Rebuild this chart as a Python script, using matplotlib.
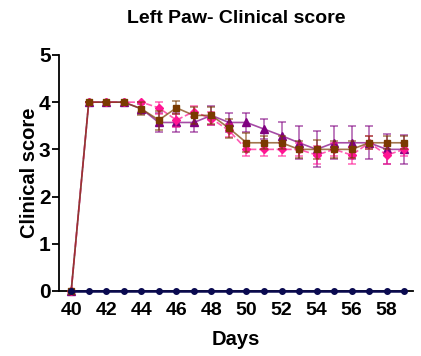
import matplotlib
matplotlib.use("Agg")
import matplotlib.pyplot as plt
from matplotlib.ticker import MultipleLocator

plt.rcParams['font.family'] = ['Liberation Sans', 'DejaVu Sans']
plt.rcParams['font.weight'] = 'bold'

days = list(range(40, 60))

# Group means
control = [0] * 20
group_sq = [0, 4, 4, 4, 3.86, 3.62, 3.88, 3.72, 3.72, 3.45, 3.14, 3.14, 3.14, 3.0, 3.0, 3.0, 3.0, 3.14, 3.14, 3.14]
group_di = [0, 4, 4, 4, 4.0, 3.88, 3.62, 3.8, 3.65, 3.4, 3.0, 3.0, 3.0, 3.0, 2.88, 3.0, 2.88, 3.14, 2.88, 3.0]
group_tr = [0, 4, 4, 4, 3.86, 3.57, 3.57, 3.57, 3.72, 3.57, 3.57, 3.43, 3.29, 3.14, 3.0, 3.14, 3.14, 3.14, 3.0, 3.0]

# Standard errors
err_sq = [0, 0, 0, 0, 0.14, 0.2, 0.14, 0.18, 0.18, 0.2, 0.2, 0.14, 0.14, 0.18, 0.2, 0.18, 0.18, 0.14, 0.14, 0.14]
err_di = [0, 0, 0, 0, 0.0, 0.12, 0.14, 0.12, 0.14, 0.14, 0.14, 0.14, 0.14, 0.14, 0.2, 0.14, 0.18, 0.14, 0.2, 0.14]
err_tr = [0, 0, 0, 0, 0.1, 0.2, 0.2, 0.2, 0.2, 0.21, 0.21, 0.21, 0.29, 0.35, 0.38, 0.35, 0.35, 0.35, 0.32, 0.3]

fig = plt.figure(figsize=(4.21, 3.56), dpi=100)
ax = fig.add_axes([0.140, 0.1826, 0.841, 0.663])

brown = '#7a3a00'
pink = '#ff1493'
purple = '#800080'
navy = '#0a0a50'


def series(y, e, color, marker, ms, ls, z):
    ax.errorbar(days, y, yerr=e, color=color, ls='none', elinewidth=1.2,
                capsize=2.8, capthick=1.2, clip_on=False, zorder=z, alpha=0.6)
    ax.plot(days, y, color=color, ls=ls, lw=1.2, alpha=0.7, clip_on=False, zorder=z)
    ax.plot(days, y, color=color, ls='none', marker=marker, ms=ms,
            clip_on=False, zorder=z + 0.5)


series(group_tr, err_tr, purple, '^', 5.5, '-', 3)
series(group_di, err_di, pink, 'D', 4.0, '--', 4)
series(group_sq, err_sq, brown, 's', 5.0, '-', 5)
ax.plot(days, control, color=navy, marker='o', ms=4, lw=1.8, clip_on=False, zorder=7)

ax.set_xlim(39.3, 59.5)
ax.set_ylim(0, 5)
ax.xaxis.set_major_locator(MultipleLocator(2))
ax.yaxis.set_major_locator(MultipleLocator(1))

for s in ['top', 'right']:
    ax.spines[s].set_visible(False)
for s in ['left', 'bottom']:
    ax.spines[s].set_linewidth(1.3)
    ax.spines[s].set_color('black')

ax.tick_params(axis='y', labelsize=15, width=1.3, length=5, pad=1)
ax.tick_params(axis='x', labelsize=14, width=1.3, length=0, pad=8)
for lab in ax.get_xticklabels() + ax.get_yticklabels():
    lab.set_fontweight('bold')

ax.set_xlabel('Days', fontsize=14.5, fontweight='bold', labelpad=8)
ax.set_ylabel('Clinical score', fontsize=14.5, fontweight='bold', labelpad=0)
ax.set_title('Left Paw- Clinical score', fontsize=14, fontweight='bold', pad=23)

fig.savefig('out.png', dpi=100)
